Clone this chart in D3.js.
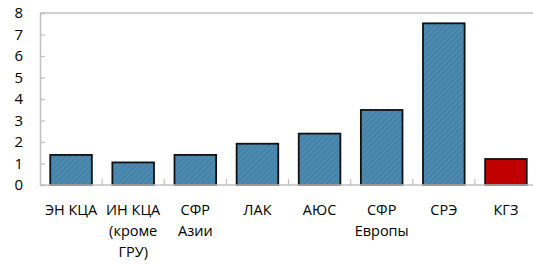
<!DOCTYPE html>
<html><head><meta charset="utf-8">
<script src="https://cdn.jsdelivr.net/npm/d3@7"></script>
<style>body{margin:0;background:#fff}svg{display:block}text{font-family:"Open Sans","Noto Sans",sans-serif;fill:#000}</style>
</head><body><div id="c"></div>
<script>
const categories = [["ЭН КЦА"],["ИН КЦА","(кроме","ГРУ)"],["СФР","Азии"],["ЛАК"],["АЮС"],["СФР","Европы"],["СРЭ"],["КГЗ"]];
const values = [1.40, 1.05, 1.40, 1.92, 2.39, 3.49, 7.52, 1.21];
const highlight = [false,false,false,false,false,false,false,true];
const yTicks = [0,1,2,3,4,5,6,7,8];

const W=533,H=264;
const m={l:40,t:13,r:-4,b:79};
const svg=d3.select("#c").append("svg").attr("width",W).attr("height",H);
const defs=svg.append("defs");
const pat=defs.append("pattern").attr("id","hatch").attr("patternUnits","userSpaceOnUse")
  .attr("width",4).attr("height",4).attr("patternTransform","rotate(45)");
pat.append("rect").attr("width",4).attr("height",4).attr("fill","#4d8bb1");
pat.append("rect").attr("width",2).attr("height",4).attr("fill","#4682a8");

const x=d3.scaleBand().domain(d3.range(categories.length)).range([m.l,W-m.r]).paddingInner(0.33).paddingOuter(0.165);
const y=d3.scaleLinear().domain([0,8]).range([H-m.b,m.t]);
const grey="#c0c0c0";
svg.append("line").attr("x1",m.l).attr("x2",W).attr("y1",y(8)).attr("y2",y(8)).attr("stroke",grey).attr("stroke-width",1.5);
const ya=svg.append("g").attr("transform",`translate(${m.l},0)`)
  .call(d3.axisRight(y).tickValues(yTicks).tickSize(5).tickFormat(""));
ya.select(".domain").attr("stroke",grey).attr("stroke-width",1.5);
ya.selectAll(".tick line").attr("stroke",grey).attr("stroke-width",1.2);
svg.append("g").selectAll("text").data(yTicks).join("text")
  .attr("x",23).attr("y",d=>y(d)).attr("dy","0.36em").attr("text-anchor","end")
  .style("font-size","15px").text(d=>d);
svg.append("g").selectAll("rect").data(values).join("rect")
  .attr("x",(d,i)=>x(i)).attr("width",x.bandwidth())
  .attr("y",d=>y(d)).attr("height",d=>y(0)-y(d))
  .attr("fill",(d,i)=>highlight[i]?"#c00000":"url(#hatch)")
  .attr("stroke","#111").attr("stroke-width",1.8);
svg.append("line").attr("x1",m.l).attr("x2",W).attr("y1",y(0)).attr("y2",y(0)).attr("stroke",grey).attr("stroke-width",1.5);
const step=x.step();
const bounds=d3.range(1,categories.length).map(i=>x(i)-x.paddingInner()*step/2);
svg.append("g").selectAll("line").data(bounds).join("line")
  .attr("x1",d=>d).attr("x2",d=>d).attr("y1",y(0)).attr("y2",y(0)-6).attr("stroke",grey).attr("stroke-width",1.2);
const lg=svg.append("g");
categories.forEach((lines,i)=>{
  const t=lg.append("text").attr("x",x(i)+x.bandwidth()/2).attr("y",215).attr("text-anchor","middle").style("font-size","14.5px");
  lines.forEach((s,j)=>t.append("tspan").attr("x",x(i)+x.bandwidth()/2).attr("dy",j?21:0).text(s));
});
</script></body></html>
